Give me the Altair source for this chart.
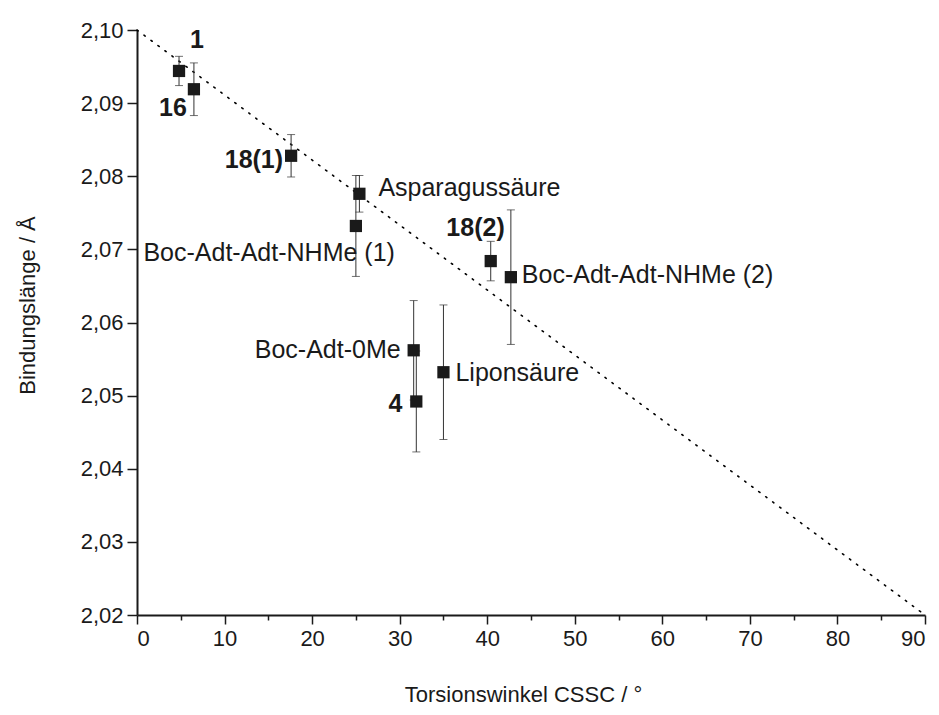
import altair as alt
import pandas as pd

# ---- data ----
names = ["1", "16", "18(1)", "Asparagussäure", "Boc-Adt-Adt-NHMe (1)",
         "18(2)", "Boc-Adt-Adt-NHMe (2)", "Boc-Adt-0Me", "4", "Liponsäure"]
torsion = [4.8, 6.5, 17.6, 25.4, 25.0, 40.4, 42.7, 31.6, 31.9, 35.0]
bond = [2.0944, 2.0919, 2.0828, 2.0776, 2.0732, 2.0684, 2.0662, 2.0562, 2.0492, 2.0532]
err = [0.0020, 0.0036, 0.0029, 0.0025, 0.0069, 0.0027, 0.0092, 0.0068, 0.0069, 0.0092]

trend_x = [0, 90]
trend_y = [2.10, 2.02]

x_ticks = [0, 5, 10, 15, 20, 25, 30, 35, 40, 45, 50, 55, 60, 65, 70, 75, 80, 85, 90]
y_ticks = [2.02, 2.025, 2.03, 2.035, 2.04, 2.045, 2.05, 2.055, 2.06, 2.065,
           2.07, 2.075, 2.08, 2.085, 2.09, 2.095, 2.10]

# ---- label styling (offsets in pixels) ----
label_bold = [True, True, True, False, False, True, False, False, True, False]
label_align = ["left", "right", "right", "left", "right", "right", "left", "right", "right", "left"]
label_dx = [11, -7, -8, 19, 39, 14, 11, -13, -14, 12]
label_dy = [-31, 19, 4, -6, 27, -33, -2, 0, 3, 1]

df = pd.DataFrame({
    "name": names,
    "x": torsion,
    "y": bond,
    "lo": [b - e for b, e in zip(bond, err)],
    "hi": [b + e for b, e in zip(bond, err)],
})
trend = pd.DataFrame({"x": trend_x, "y": trend_y})

FONT = "Liberation Sans"
INK = "#1a1a1a"

xscale = alt.Scale(domain=[0, 90], nice=False, zero=False)
yscale = alt.Scale(domain=[2.02, 2.10], nice=False, zero=False)

xaxis = alt.Axis(
    values=x_ticks,
    labelExpr="datum.value % 10 === 0 ? format(datum.value, 'd') : ''",
    tickSize={"condition": {"test": "datum.value % 10 === 0", "value": 9}, "value": 5},
    title="Torsionswinkel CSSC / °",
    titleX=386, titleY=79, titleAlign="center", titleBaseline="middle",
    grid=False,
)
yaxis = alt.Axis(
    values=y_ticks,
    labelExpr="round(datum.value * 1000) % 10 === 0 ? replace(format(datum.value, '.2f'), '.', ',') : ''",
    tickSize={"condition": {"test": "round(datum.value * 1000) % 10 === 0", "value": 10}, "value": 5},
    title="Bindungslänge / Å",
    titleX=-110, titleY=275, titleAlign="center", titleBaseline="middle", titleAngle=270,
    grid=False,
)

base = alt.Chart(df)

line = alt.Chart(trend).mark_line(
    color="#000000", strokeWidth=1.6, strokeDash=[1.5, 7.2], strokeCap="round"
).encode(
    x=alt.X("x:Q", scale=xscale, axis=xaxis),
    y=alt.Y("y:Q", scale=yscale, axis=yaxis),
)

bars = base.mark_rule(color="#333333", strokeWidth=1).encode(
    x=alt.X("x:Q", scale=xscale), y=alt.Y("lo:Q", scale=yscale), y2="hi:Q"
)
cap_lo = base.mark_tick(color="#333333", thickness=1, size=8, orient="horizontal").encode(
    x=alt.X("x:Q", scale=xscale), y=alt.Y("lo:Q", scale=yscale)
)
cap_hi = base.mark_tick(color="#333333", thickness=1, size=8, orient="horizontal").encode(
    x=alt.X("x:Q", scale=xscale), y=alt.Y("hi:Q", scale=yscale)
)
points = base.mark_square(size=150, color=INK, opacity=1).encode(
    x=alt.X("x:Q", scale=xscale), y=alt.Y("y:Q", scale=yscale)
)

layers = [line, bars, cap_lo, cap_hi, points]
for i, n in enumerate(names):
    t = base.transform_filter(alt.datum.name == n).mark_text(
        align=label_align[i], baseline="middle", dx=label_dx[i], dy=label_dy[i],
        font=FONT, fontSize=25,
        fontWeight="bold" if label_bold[i] else "normal", color=INK,
    ).encode(
        x=alt.X("x:Q", scale=xscale), y=alt.Y("y:Q", scale=yscale), text="name:N"
    )
    layers.append(t)

chart = alt.layer(*layers).properties(
    width=788, height=585,
    autosize=alt.AutoSizeParams(type="none"),
    padding={"left": 129, "top": 22, "right": 5, "bottom": 92},
).configure_view(stroke=None).configure_axis(
    domainColor=INK, domainWidth=2, tickColor=INK, tickWidth=1.5,
    labelFont=FONT, labelFontSize=22, labelColor=INK, labelPadding=4,
    titleFont=FONT, titleFontSize=22, titleFontWeight="normal", titleColor=INK,
)

chart.save("out.html", embed_options={"renderer": "svg", "actions": False})
